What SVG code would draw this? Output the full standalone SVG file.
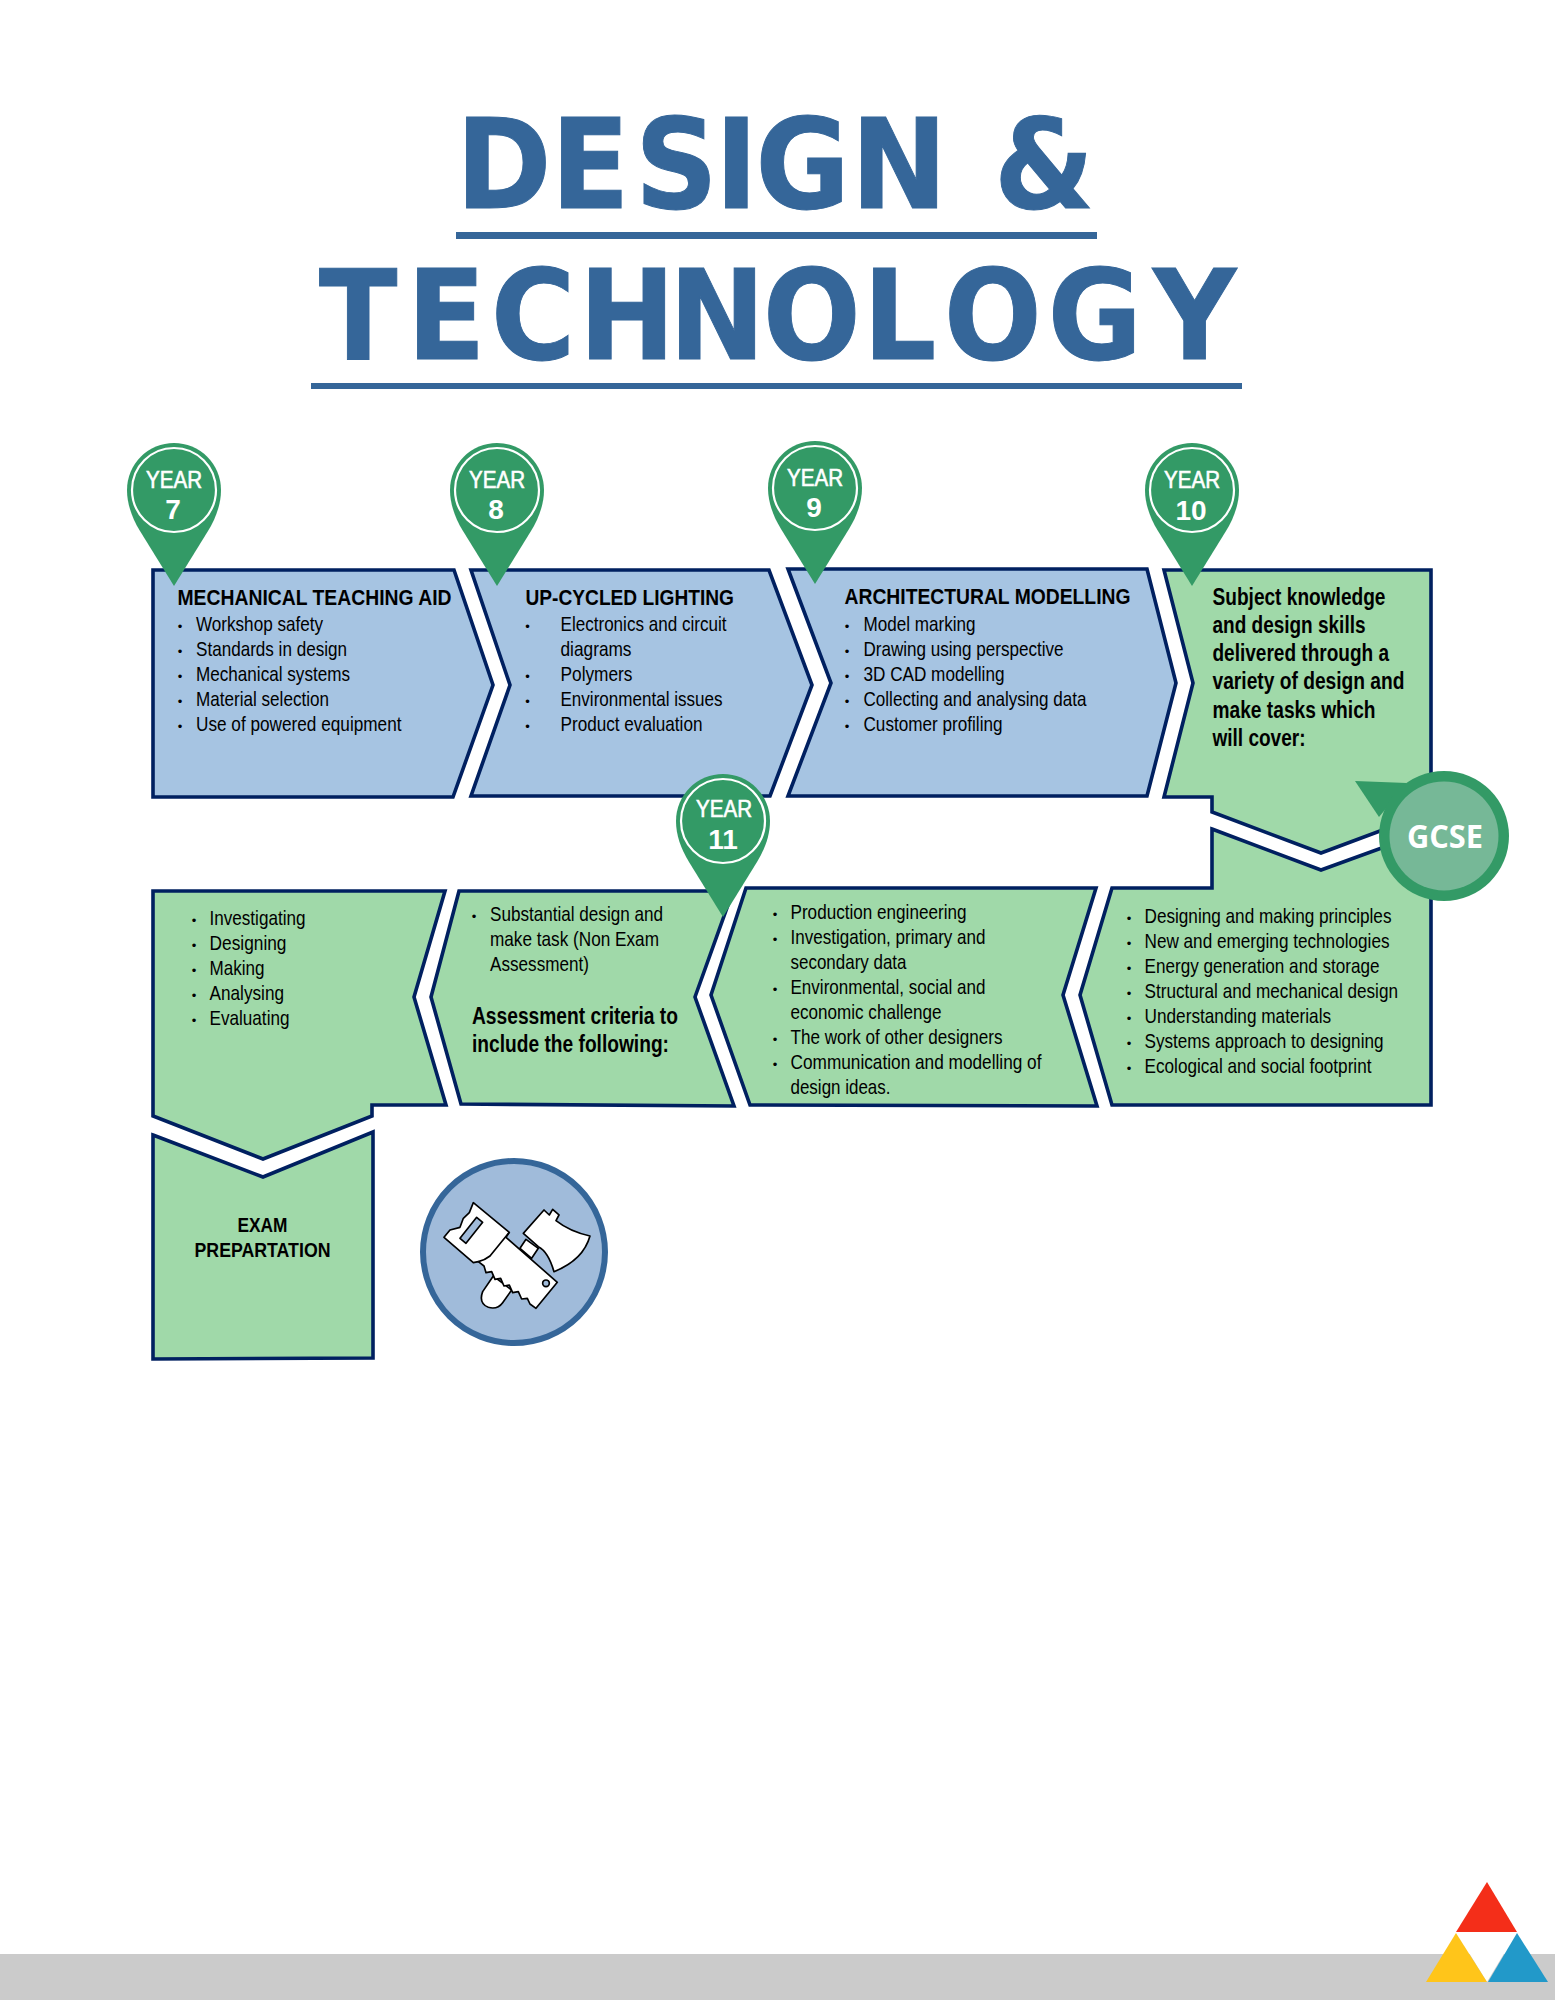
<svg xmlns="http://www.w3.org/2000/svg" xmlns:xlink="http://www.w3.org/1999/xlink" width="1555" height="2000" viewBox="0 0 1555 2000">
<style>
text{font-family:"Liberation Sans",Arial,sans-serif}
.box{stroke:#002060;stroke-width:3.6;stroke-linejoin:miter}
.blue{fill:#A6C4E2}
.green{fill:#A0D9A9}
.t{font-size:21px;fill:#000}
.b{font-size:22px;font-weight:bold;fill:#000}
.bb{font-size:23px;font-weight:bold;fill:#000}
.ex{font-size:20px;font-weight:bold;fill:#000;text-anchor:middle}
.bu{font-size:13px;fill:#000;text-anchor:middle}
.title{font-family:"DejaVu Sans",sans-serif;font-weight:bold;font-size:125px;fill:#356699;stroke:#356699;stroke-width:1}
.rule{fill:#356699}
.pin{fill:#339A66}
.ring{fill:none;stroke:#fff;stroke-width:2.2}
.py{font-size:23px;fill:#fff;stroke:#fff;stroke-width:.6;text-anchor:middle}
.pn{font-size:28px;fill:#fff;text-anchor:middle;font-weight:bold}
.ico{fill:#fff;stroke:#000;stroke-width:5;stroke-linejoin:round}
</style>
<defs>
<g id="pinshape">
<path class="pin" d="M0,96 L-34,41 C-42,28 -47,14 -47,0 A47,47 0 0 1 47,0 C47,14 42,28 34,41 Z"/>
<circle class="ring" cx="0" cy="0" r="42"/>
</g>
</defs>
<rect width="1555" height="2000" fill="#fff"/>

<g id="title">
<text class="title" transform="scale(0.92,1)" y="208" x="495.7 598.9 690.2 777.2 821.2 925 1040 1080.4">DESIGN &amp;</text>
<rect class="rule" x="456" y="232" width="641" height="7"/>
<text class="title" transform="scale(0.92,1)" y="359" x="346.7 442.4 533.7 629.3 727.2 829.3 938 1026 1139 1253.3">TECHNOLOGY</text>
<rect class="rule" x="311" y="383" width="931" height="6"/>
</g>

<g id="box-year7">
<path class="box blue" d="M153,570 L454,570 L493,685 L453,797 L153,797 Z"/>
<text class="b" x="177.5" y="605" textLength="274" lengthAdjust="spacingAndGlyphs">MECHANICAL TEACHING AID</text>
<text class="bu" x="180" y="631">•</text><text class="t" x="196" y="631" textLength="127" lengthAdjust="spacingAndGlyphs">Workshop safety</text>
<text class="bu" x="180" y="656">•</text><text class="t" x="196" y="656" textLength="151" lengthAdjust="spacingAndGlyphs">Standards in design</text>
<text class="bu" x="180" y="681">•</text><text class="t" x="196" y="681" textLength="154" lengthAdjust="spacingAndGlyphs">Mechanical systems</text>
<text class="bu" x="180" y="706">•</text><text class="t" x="196" y="706" textLength="133" lengthAdjust="spacingAndGlyphs">Material selection</text>
<text class="bu" x="180" y="731">•</text><text class="t" x="196" y="731" textLength="205.5" lengthAdjust="spacingAndGlyphs">Use of powered equipment</text>
</g>

<g id="box-year8">
<path class="box blue" d="M471,570 L769,570 L812,685 L770,796 L471,796 L510,685 Z"/>
<text class="b" x="525.5" y="605" textLength="208.5" lengthAdjust="spacingAndGlyphs">UP-CYCLED LIGHTING</text>
<text class="bu" x="527.5" y="631">•</text><text class="t" x="560.5" y="631" textLength="166" lengthAdjust="spacingAndGlyphs">Electronics and circuit</text>
<text class="t" x="560.5" y="656" textLength="71" lengthAdjust="spacingAndGlyphs">diagrams</text>
<text class="bu" x="527.5" y="681">•</text><text class="t" x="560.5" y="681" textLength="72" lengthAdjust="spacingAndGlyphs">Polymers</text>
<text class="bu" x="527.5" y="706">•</text><text class="t" x="560.5" y="706" textLength="162" lengthAdjust="spacingAndGlyphs">Environmental issues</text>
<text class="bu" x="527.5" y="731">•</text><text class="t" x="560.5" y="731" textLength="142" lengthAdjust="spacingAndGlyphs">Product evaluation</text>
</g>

<g id="box-year9">
<path class="box blue" d="M788,569 L1147,569 L1176,683 L1147,796 L788,796 L831,683 Z"/>
<text class="b" x="844.5" y="604" textLength="286" lengthAdjust="spacingAndGlyphs">ARCHITECTURAL MODELLING</text>
<text class="bu" x="847" y="631">•</text><text class="t" x="863.5" y="631" textLength="112" lengthAdjust="spacingAndGlyphs">Model marking</text>
<text class="bu" x="847" y="656">•</text><text class="t" x="863.5" y="656" textLength="200" lengthAdjust="spacingAndGlyphs">Drawing using perspective</text>
<text class="bu" x="847" y="681">•</text><text class="t" x="863.5" y="681" textLength="141" lengthAdjust="spacingAndGlyphs">3D CAD modelling</text>
<text class="bu" x="847" y="706">•</text><text class="t" x="863.5" y="706" textLength="223" lengthAdjust="spacingAndGlyphs">Collecting and analysing data</text>
<text class="bu" x="847" y="731">•</text><text class="t" x="863.5" y="731" textLength="139" lengthAdjust="spacingAndGlyphs">Customer profiling</text>
</g>

<g id="box-year10">
<path class="box green" d="M1164,570 L1431,570 L1431,812 L1321,853 L1212,812 L1212,797 L1164,797 L1193,683 Z"/>
<text class="bb" x="1212.5" y="605" textLength="173" lengthAdjust="spacingAndGlyphs">Subject knowledge</text>
<text class="bb" x="1212.5" y="633" textLength="153" lengthAdjust="spacingAndGlyphs">and design skills</text>
<text class="bb" x="1212.5" y="661" textLength="176.6" lengthAdjust="spacingAndGlyphs">delivered through a</text>
<text class="bb" x="1212.5" y="689.2" textLength="192" lengthAdjust="spacingAndGlyphs">variety of design and</text>
<text class="bb" x="1212.5" y="717.6" textLength="163" lengthAdjust="spacingAndGlyphs">make tasks which</text>
<text class="bb" x="1212.5" y="746" textLength="93" lengthAdjust="spacingAndGlyphs">will cover:</text>
</g>

<g id="box-gcse-content">
<path class="box green" d="M1212,829 L1321,870 L1431,830 L1431,1105 L1112,1105 L1080,995 L1112,888 L1212,888 Z"/>
<text class="bu" x="1129" y="923">•</text><text class="t" x="1144.5" y="923" textLength="247" lengthAdjust="spacingAndGlyphs">Designing and making principles</text>
<text class="bu" x="1129" y="948">•</text><text class="t" x="1144.5" y="948" textLength="245" lengthAdjust="spacingAndGlyphs">New and emerging technologies</text>
<text class="bu" x="1129" y="973">•</text><text class="t" x="1144.5" y="973" textLength="235" lengthAdjust="spacingAndGlyphs">Energy generation and storage</text>
<text class="bu" x="1129" y="998">•</text><text class="t" x="1144.5" y="998" textLength="253.5" lengthAdjust="spacingAndGlyphs">Structural and mechanical design</text>
<text class="bu" x="1129" y="1023">•</text><text class="t" x="1144.5" y="1023" textLength="186.6" lengthAdjust="spacingAndGlyphs">Understanding materials</text>
<text class="bu" x="1129" y="1048">•</text><text class="t" x="1144.5" y="1048" textLength="239" lengthAdjust="spacingAndGlyphs">Systems approach to designing</text>
<text class="bu" x="1129" y="1073">•</text><text class="t" x="1144.5" y="1073" textLength="227" lengthAdjust="spacingAndGlyphs">Ecological and social footprint</text>
</g>

<g id="box-production">
<path class="box green" d="M746,888 L1096,888 L1063,995 L1097,1106 L750,1105 L711,995 Z"/>
<text class="bu" x="775" y="919">•</text><text class="t" x="790.5" y="919" textLength="176" lengthAdjust="spacingAndGlyphs">Production engineering</text>
<text class="bu" x="775" y="944">•</text><text class="t" x="790.5" y="944" textLength="195" lengthAdjust="spacingAndGlyphs">Investigation, primary and</text>
<text class="t" x="790.5" y="969" textLength="116" lengthAdjust="spacingAndGlyphs">secondary data</text>
<text class="bu" x="775" y="994">•</text><text class="t" x="790.5" y="994" textLength="195" lengthAdjust="spacingAndGlyphs">Environmental, social and</text>
<text class="t" x="790.5" y="1019" textLength="151" lengthAdjust="spacingAndGlyphs">economic challenge</text>
<text class="bu" x="775" y="1044">•</text><text class="t" x="790.5" y="1044" textLength="212" lengthAdjust="spacingAndGlyphs">The work of other designers</text>
<text class="bu" x="775" y="1069">•</text><text class="t" x="790.5" y="1069" textLength="251" lengthAdjust="spacingAndGlyphs">Communication and modelling of</text>
<text class="t" x="790.5" y="1094" textLength="100" lengthAdjust="spacingAndGlyphs">design ideas.</text>
</g>

<g id="box-year11">
<path class="box green" d="M459,891 L733,891 L695,997 L734,1106 L461,1104 L431,997 Z"/>
<text class="bu" x="474" y="921">•</text><text class="t" x="490" y="921" textLength="173" lengthAdjust="spacingAndGlyphs">Substantial design and</text>
<text class="t" x="490" y="946" textLength="169" lengthAdjust="spacingAndGlyphs">make task (Non Exam</text>
<text class="t" x="490" y="971" textLength="99" lengthAdjust="spacingAndGlyphs">Assessment)</text>
<text class="bb" x="472" y="1024" textLength="206" lengthAdjust="spacingAndGlyphs">Assessment criteria to</text>
<text class="bb" x="472" y="1052" textLength="197" lengthAdjust="spacingAndGlyphs">include the following:</text>
</g>

<g id="box-investigating">
<path class="box green" d="M153,891 L445,891 L414,997 L446,1105 L372,1105 L372,1116 L263,1159 L153,1116 Z"/>
<text class="bu" x="194" y="925">•</text><text class="t" x="209.5" y="925" textLength="96" lengthAdjust="spacingAndGlyphs">Investigating</text>
<text class="bu" x="194" y="950">•</text><text class="t" x="209.5" y="950" textLength="77" lengthAdjust="spacingAndGlyphs">Designing</text>
<text class="bu" x="194" y="975">•</text><text class="t" x="209.5" y="975" textLength="55" lengthAdjust="spacingAndGlyphs">Making</text>
<text class="bu" x="194" y="1000">•</text><text class="t" x="209.5" y="1000" textLength="74.5" lengthAdjust="spacingAndGlyphs">Analysing</text>
<text class="bu" x="194" y="1025">•</text><text class="t" x="209.5" y="1025" textLength="80" lengthAdjust="spacingAndGlyphs">Evaluating</text>
</g>

<g id="box-exam">
<path class="box green" d="M153,1135 L263,1177 L373,1132 L373,1358 L153,1359 Z"/>
<text class="ex" x="262.5" y="1232" textLength="50" lengthAdjust="spacingAndGlyphs">EXAM</text>
<text class="ex" x="262.5" y="1257" textLength="136" lengthAdjust="spacingAndGlyphs">PREPARTATION</text>
</g>

<g id="connectors"></g>

<g id="icon-tools">
<circle cx="514" cy="1252" r="91" fill="#A0BBDA" stroke="#356699" stroke-width="6"/>
<g transform="translate(410,1150) scale(0.3333)">
<path class="ico" d="M250,378 L218,425 Q205,460 235,472 Q262,480 278,458 L305,420 Z"/>
<path class="ico" d="M348,268 L330,295 L365,325 L385,295 Z"/>
<path class="ico" d="M340,250 L402,180 L418,195 L428,178 L447,195 L438,212 Q480,245 540,258 Q520,330 432,365 Q415,305 385,290 Z"/>
<path class="ico" d="M190,158 L298,247 L288,262 L442,397 L378,475 L360,462 L352,445 L335,447 L325,425 L308,428 L298,405 L282,408 L272,385 L255,388 L245,365 L228,368 L222,348 L205,335 L190,338 L102,262 L120,240 L150,232 L160,205 L178,188 Z"/>
<path class="ico" d="M298,247 L240,318 Q225,330 205,335" fill="none"/>
<path class="ico" d="M150,265 L200,202 L218,217 L168,280 Z" style="fill:#A0BBDA"/>
<circle class="ico" cx="408" cy="400" r="10" style="fill:#A0BBDA"/>
</g>
</g>

<g id="pin-year7"><use href="#pinshape" xlink:href="#pinshape" x="174" y="490"/>
<text class="py" x="174" y="488" textLength="56" lengthAdjust="spacingAndGlyphs">YEAR</text><text class="pn" x="173" y="519">7</text></g>
<g id="pin-year8"><use href="#pinshape" xlink:href="#pinshape" x="497" y="490"/>
<text class="py" x="497" y="488" textLength="56" lengthAdjust="spacingAndGlyphs">YEAR</text><text class="pn" x="496" y="519">8</text></g>
<g id="pin-year9"><use href="#pinshape" xlink:href="#pinshape" x="815" y="488"/>
<text class="py" x="815" y="486" textLength="56" lengthAdjust="spacingAndGlyphs">YEAR</text><text class="pn" x="814" y="517">9</text></g>
<g id="pin-year10"><use href="#pinshape" xlink:href="#pinshape" x="1192" y="490"/>
<text class="py" x="1192" y="488" textLength="56" lengthAdjust="spacingAndGlyphs">YEAR</text><text class="pn" x="1191" y="520">10</text></g>
<g id="pin-year11"><use href="#pinshape" xlink:href="#pinshape" x="723" y="821"/>
<text class="py" x="724" y="817" textLength="56" lengthAdjust="spacingAndGlyphs">YEAR</text><text class="pn" x="723" y="849">11</text></g>

<g id="gcse">
<path class="pin" d="M1355,781 L1407,783 L1379,817 Z"/>
<circle class="pin" cx="1444" cy="836" r="65"/>
<circle cx="1444" cy="836" r="54.5" fill="#76B897"/>
<text x="1445" y="848" text-anchor="middle" textLength="76" lengthAdjust="spacingAndGlyphs" style="font-family:'Open Sans',sans-serif;font-weight:bold;font-size:32px;fill:#fff">GCSE</text>
</g>

<g id="footer">
<rect x="0" y="1954" width="1555" height="46" fill="#CBCBCB"/>
<polygon points="1456,1932 1517,1932 1487,1982" fill="#fff"/>
<polygon points="1487,1882 1517,1932 1456,1932" fill="#F42E19"/>
<polygon points="1456,1933 1487,1982 1426,1982" fill="#FFC51A"/>
<polygon points="1517,1933 1548,1982 1488,1982" fill="#2299C9"/>
</g>
</svg>
